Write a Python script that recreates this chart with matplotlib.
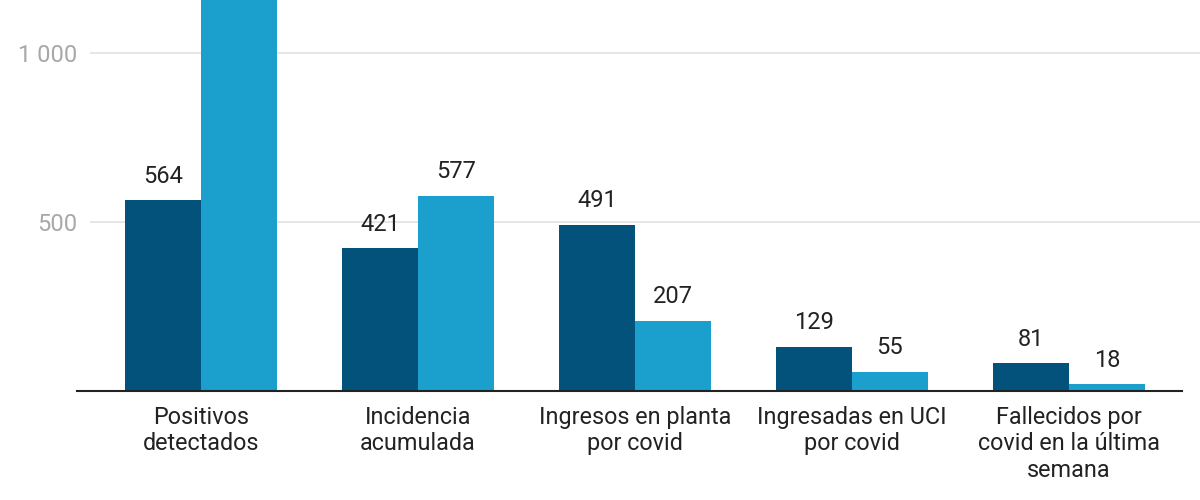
import numpy as np
import matplotlib.pyplot as plt

plt.rcParams['font.family'] = ['Roboto', 'DejaVu Sans']

categories = ["Positivos\ndetectados", "Incidencia\nacumulada", "Ingresos en planta\npor covid",
              "Ingresadas en UCI\npor covid", "Fallecidos por\ncovid en la última\nsemana"]
serie_a = [564, 421, 491, 129, 81]
serie_b = [1230, 577, 207, 55, 18]   # first value runs off the top of the image
yticks = [500, 1000]
ytick_labels = ["500", "1 000"]

dark = "#03527b"
light = "#1ba0cd"

W, H = 1200, 500
fig = plt.figure(figsize=(12, 5), dpi=100)
# axes from x=90px to right edge, baseline at y=390.5px, top edge of figure
ax = fig.add_axes([90 / W, (H - 390.5) / H, 1 - 90 / W, 390.5 / H])

x = np.arange(len(categories))
w = 0.348
ba = ax.bar(x - w / 2, serie_a, w, color=dark, zorder=3)
bb = ax.bar(x + w / 2, serie_b, w, color=light, zorder=3)

for bars, vals in ((ba, serie_a), (bb, serie_b)):
    for r, v in zip(bars, vals):
        ax.annotate(f"{v}", (r.get_x() + r.get_width() / 2, v), xytext=(0, 9),
                    textcoords="offset points", ha="center", va="bottom",
                    fontsize=17, color="#222222")

# px -> data: category 0 centre at 201px, spacing 217px
left = (90 - 201) / 217
right = (1200 - 201) / 217
ax.set_xlim(left, right)
ax.set_ylim(0, 390.5 / 0.3375)

for t in yticks:
    ax.axhline(t, color="#e2e2e2", lw=1.2, zorder=1)
# baseline runs from 77px to 1182px
ax.plot([(77 - 90) / 1110, (1182 - 90) / 1110], [0, 0], color="#222222", lw=1.5,
        transform=ax.get_yaxis_transform(), clip_on=False, zorder=4)

ax.set_yticks(yticks)
ax.set_yticklabels(ytick_labels)
ax.set_xticks(x)
ax.set_xticklabels(categories, linespacing=1.2)
ax.tick_params(axis="y", length=0, pad=9, labelsize=17, labelcolor="#a8a8a8")
ax.tick_params(axis="x", length=0, pad=11, labelsize=16.8, labelcolor="#222222")
for s in ax.spines.values():
    s.set_visible(False)

fig.savefig("out.png", dpi=100)
